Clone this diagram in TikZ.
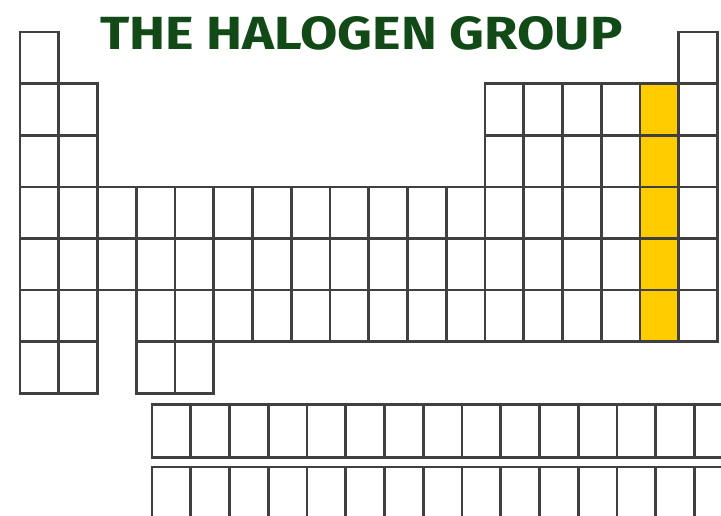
\documentclass[tikz,border=0pt]{standalone}
\usepackage{fontspec}
\setmainfont{Fira Sans}
\usepackage{graphicx}
\definecolor{halogen}{HTML}{FFCC00}
\definecolor{titlegreen}{HTML}{124A17}
\tikzset{cell/.style={draw=black!75, line width=2.6pt}}
\begin{document}
\begin{tikzpicture}[x=1pt, y=-1pt]
\useasboundingbox (0,0) rectangle (721,515);
\clip (0,0) rectangle (721,515);
\node[text=titlegreen, anchor=west, inner sep=0pt] (title) at (100,33.5) {\resizebox{522pt}{33pt}{\bfseries THE HALOGEN GROUP}};
% halogen column
\fill[halogen] (640,83.6) rectangle (678.75,341.6);
% main table, row by row
\foreach \c in {1,18} \draw[cell] (20+38.75*\c-38.75,32) rectangle +(38.75,51.6);
\foreach \r in {2,3}
  \foreach \c in {1,2,13,14,15,16,17,18}
    \draw[cell] (20+38.75*\c-38.75,32+51.6*\r-51.6) rectangle +(38.75,51.6);
\foreach \r in {4,5}
  \foreach \c in {1,...,18}
    \draw[cell] (20+38.75*\c-38.75,32+51.6*\r-51.6) rectangle +(38.75,51.6);
\foreach \c in {1,2,4,5,...,18} \draw[cell] (20+38.75*\c-38.75,290) rectangle +(38.75,51.6);
\foreach \c in {1,2,4,5} \draw[cell] (20+38.75*\c-38.75,341.6) rectangle +(38.75,51.6);
% lanthanides and actinides
\foreach \c in {0,...,14} {
  \draw[cell] (152+38.75*\c,404.5) rectangle +(38.75,53);
  \draw[cell] (152+38.75*\c,467) rectangle +(38.75,53);
}
\end{tikzpicture}
\end{document}
